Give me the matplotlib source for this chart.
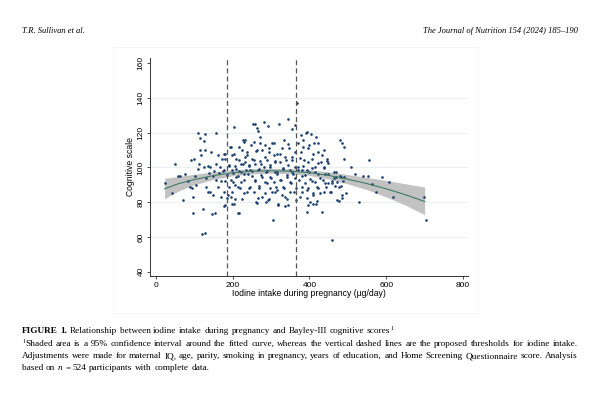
import matplotlib
matplotlib.use('Agg')
import matplotlib.pyplot as plt
from matplotlib.patches import Rectangle

# iodine intake (ug/day) and Bayley-III cognitive score
intake = [23, 43, 50, 58, 62, 70, 76, 84, 90, 94, 91, 96, 98, 100, 102, 106, 109, 110, 113, 115,
          116, 119, 121, 125, 125, 127, 128, 123, 128, 130, 132, 135, 137, 139, 141, 142, 145, 147, 150, 150,
          152, 154, 156, 157, 158, 161, 163, 164, 167, 170, 171, 173, 176, 178, 178,
          189, 191, 193, 196, 197, 199, 202, 203, 204, 206, 209, 210, 213, 215, 217, 219, 221, 223, 225, 228,
          230, 232, 234, 237, 238, 241, 243, 245, 247, 250,
          254, 257, 258, 260, 263, 264, 267, 269, 271, 273, 276, 277, 283, 284, 286, 289, 291, 293, 295, 297,
          300, 303, 306, 308, 310, 312, 315, 317, 321, 323, 326, 328, 330, 333, 335, 337, 339, 341, 343, 345,
          348, 350, 352, 354, 356, 358, 361, 363, 367,
          370, 371, 373, 376, 378, 380, 382, 384, 386, 389, 391, 393, 395, 397, 399, 402, 404, 406, 408, 410,
          413, 415, 417, 419, 422, 423, 428, 430, 432, 435, 437, 439, 443, 445, 448, 454, 458, 460, 465, 469,
          472, 476, 480, 483, 484, 486, 489, 491, 495, 489,
          509, 519, 530, 539, 552, 556, 563, 573, 590, 608, 617, 699, 704,
          259, 265, 272, 233, 229, 255, 285, 303, 196, 224, 262, 277, 294, 179, 203, 237, 250, 307, 181, 216,
          233, 272, 289, 311, 190, 207, 227, 242, 259, 281, 298, 177, 198, 216, 246, 268, 290, 311, 185, 209,
          229, 250, 275, 298, 179, 200, 223, 259, 284, 307, 190, 214, 242, 270, 298, 177, 198, 229, 255, 285,
          310, 185, 207, 266, 294, 181, 198, 263, 287, 216,
          393, 417, 378, 423, 400, 384, 345, 328, 362, 315, 432, 410, 337, 376, 354, 445, 397, 324, 423, 345,
          384, 362, 406, 437, 332, 371, 393, 354, 315, 415, 441, 341, 380, 362, 402, 428, 324, 350, 389, 415,
          441, 332, 366, 397, 423, 315, 350, 380, 410, 437, 337, 393, 366, 419, 345, 319, 397, 410,
          449, 470, 479, 464, 459, 473, 488, 448, 467, 482, 456, 484, 477]
score = [91, 85, 102, 95, 95, 81, 96, 92, 89, 88, 104, 83, 74, 105, 95, 90, 99, 120, 102, 117,
         110, 107, 61.5, 115, 100, 62.5, 119, 76, 110, 94, 89, 86, 101, 97, 86, 100, 109, 73, 95, 84,
         98, 74, 120, 93, 102, 107, 89, 97, 100, 92, 83, 105, 98, 78, 108,
         84, 101, 112, 93, 83, 107, 97, 123.5, 79, 90, 105, 99, 95, 73.5, 112, 88, 102, 97.5, 82, 116,
         93, 106, 98.5, 86, 109, 96, 101, 89, 113, 98,
         125, 104, 93, 80, 122.5, 110, 98.5, 88, 114, 102, 94.6, 83, 126, 106, 97.5, 91, 81, 124, 111, 100,
         93.7, 86, 70, 114, 103, 89, 96.5, 79, 125, 108, 92.7, 84, 99.6, 116, 88, 78, 104, 94.6, 82, 127.7,
         111, 98.5, 90.8, 122, 106, 96.5, 86, 124.4, 137,
         114, 100, 92.7, 83, 109, 98.5, 89, 116, 104, 95.6, 119.6, 87, 74.4, 111, 97.5, 80, 119, 105, 92, 84,
         114, 100, 79, 89, 109, 96.5, 85, 103, 74.4, 92.7, 110, 99.6, 89, 104.6, 96.5, 86, 58.5, 92, 97.5, 94.6,
         81, 89, 116, 94.6, 114, 84, 112, 105, 85, 94.6,
         100, 96.5, 80, 94.8, 95, 104, 90.4, 85.6, 94.6, 91.5, 82.7, 83, 69.6,
         124.8, 121, 117.7, 115.8, 114.4, 114.4, 113, 113.9, 112, 110, 109.4, 110, 109, 107.5, 108, 107, 105, 107, 104.8, 104.2,
         103.3, 103.7, 104.2, 103.7, 101.4, 100.8, 101.7, 101.4, 101.7, 100.4, 101.4, 98.5, 98.5, 97.9, 98.5, 99.1, 97.9, 97.5, 95.6, 94.6,
         96, 95.2, 95.6, 94.6, 92.1, 91.7, 91.4, 92.1, 91.4, 91.7, 88.8, 88.8, 87.9, 89.2, 88.3, 85.6, 85.6, 85, 85.6, 85,
         85.6, 82.5, 82.1, 82.5, 81.7, 78.3, 79.2, 79.8, 80.2, 73.5,
         120.2, 117.7, 118.7, 113.9, 112.9, 111.9, 113.3, 111.3, 109, 108, 107.1, 107.5, 106.1, 105.2, 104.2, 103.7, 103.3, 102.9, 102.3, 101.4,
         101, 100.4, 99.8, 100.4, 99.1, 98.5, 98.5, 97.5, 97.5, 97.5, 96.5, 95.6, 95.2, 93.7, 93.3, 94, 92.7, 91.4, 90.8, 91.4,
         90.8, 88.8, 88.3, 87.9, 88.3, 86.9, 85.6, 85.6, 85, 85.6, 83.1, 82.5, 81.2, 80.6, 78.3, 78.3, 78.3, 78.7,
         102.3, 97.1, 95, 94, 91.1, 91.4, 92.1, 91, 89.2, 89.2, 86, 82.5, 80.6]

# fitted curve with 95% CI
curve_x = [23, 60, 100, 150, 200, 250, 300, 350, 400, 450, 500, 550, 600, 650, 700]
curve_fit = [87.7, 90.7, 93.0, 95.3, 96.9, 97.8, 98.1, 97.8, 97.0, 95.4, 93.2, 90.7, 87.7, 84.3, 80.4]
curve_hi = [93.7, 94.9, 96.0, 97.5, 98.6, 99.3, 99.5, 99.3, 98.6, 97.5, 95.9, 94.3, 92.5, 90.6, 88.7]
curve_lo = [82.0, 86.5, 90.0, 93.1, 95.2, 96.3, 96.7, 96.3, 95.4, 93.3, 90.5, 87.2, 83.0, 78.3, 72.8]

thresholds = [185, 365]
xticks = [0, 200, 400, 600, 800]
yticks = [40, 60, 80, 100, 120, 140, 160]
grid_y = [60, 80, 100, 120, 140]

W, H = 600, 393
fig = plt.figure(figsize=(W / 100, H / 100), dpi=100)

# faint panel frame
fig.patches.append(Rectangle((113 / W, 1 - 313 / H), 365 / W, 266 / H, transform=fig.transFigure,
                             fill=False, edgecolor='#f3f3f3', linewidth=0.6))

ax = fig.add_axes([150 / W, 1 - 276 / H, 318 / W, 218 / H])
ax.set_xlim(-15, 813)
ax.set_ylim(37.5, 163)
for s in ['top', 'right']:
    ax.spines[s].set_visible(False)
for s in ['left', 'bottom']:
    ax.spines[s].set_color('#333333')
    ax.spines[s].set_linewidth(0.7)

for g in grid_y:
    ax.axhline(g, color='#e8f0f2', linewidth=0.7, zorder=0)

ax.fill_between(curve_x, curve_lo, curve_hi, color='#c2c2c2', linewidth=0, zorder=1)
ax.scatter(intake, score, s=3.6, color='#1c3f6e', linewidths=0, zorder=2)
ax.plot(curve_x, curve_fit, color='#3d7a66', linewidth=0.8, zorder=3)
for t in thresholds:
    ax.axvline(t, color='#555555', linewidth=0.9, linestyle=(0, (4, 2.5)), zorder=4)

ax.set_xticks(xticks)
ax.set_yticks(yticks)
ax.tick_params(axis='both', length=2.5, width=0.6, color='#333333', labelsize=6, pad=1.5)
for lab in ax.get_yticklabels():
    lab.set_rotation(90)
    lab.set_va('center')
    lab.set_fontfamily('Liberation Sans')
for lab in ax.get_xticklabels():
    lab.set_fontfamily('Liberation Sans')
ax.set_xlabel('Iodine intake during pregnancy (µg/day)', fontsize=6.2, family='Liberation Sans', labelpad=0.5)
ax.set_ylabel('Cognitive scale', fontsize=6.2, family='Liberation Sans', labelpad=2)

# page header
fig.text(22 / W, 1 - 33 / H, 'T.R. Sullivan et al.', family='Liberation Serif', style='italic',
         fontsize=6.1, va='baseline')
fig.text(578 / W, 1 - 33 / H, 'The Journal of Nutrition 154 (2024) 185–190', family='Liberation Serif',
         style='italic', fontsize=6.1, va='baseline', ha='right')

# caption, drawn word by word so lines can be justified
r = fig.canvas.get_renderer()
CAP = 6.7


def draw_line(words, ypx, x0=22, x1=None):
    y = 1 - ypx / H
    placed = []
    total = 0
    for word in words:
        parts = []
        for txt, st in word:
            kw = dict(family='Liberation Serif', fontsize=CAP, va='baseline', ha='left')
            dy = 0
            if st == 'b':
                kw['weight'] = 'bold'
            if st == 'i':
                kw['style'] = 'italic'
            if st == 'sup':
                kw['fontsize'] = CAP * 0.65
                dy = 2.8 / H
            t = fig.text(0, y + dy, txt, **kw)
            w = t.get_window_extent(renderer=r).width
            parts.append((t, w))
            total += w
        placed.append(parts)
    if x1 is None:
        gap = 0.28 * CAP * 100 / 72
    else:
        gap = (x1 - x0 - total) / (len(words) - 1)
    x = x0
    for parts in placed:
        for t, w in parts:
            t.set_x(x / W)
            x += w
        x += gap


def plain(s, st='r'):
    return [[(w, st)] for w in s.split()]


line1 = plain('FIGURE 1.', 'b') + plain('Relationship between iodine intake during pregnancy and Bayley-III cognitive')
line1 += [[('scores', 'r'), ('1', 'sup')]]
draw_line(line1, 333)

line2 = [[('1', 'sup'), ('Shaded', 'r')]] + plain('area is a 95% confidence interval around the fitted curve, '
                                                   'whereas the vertical dashed lines are the proposed '
                                                   'thresholds for iodine intake.')
draw_line(line2, 346, x1=578)

line3 = plain('Adjustments were made for maternal IQ, age, parity, smoking in pregnancy, years of education, '
              'and Home Screening Questionnaire score. Analysis')
draw_line(line3, 358, x1=578)

line4 = plain('based on') + [[('n', 'i')]] + plain('= 524 participants with complete data.')
draw_line(line4, 370)

fig.savefig('out.png', dpi=100)
